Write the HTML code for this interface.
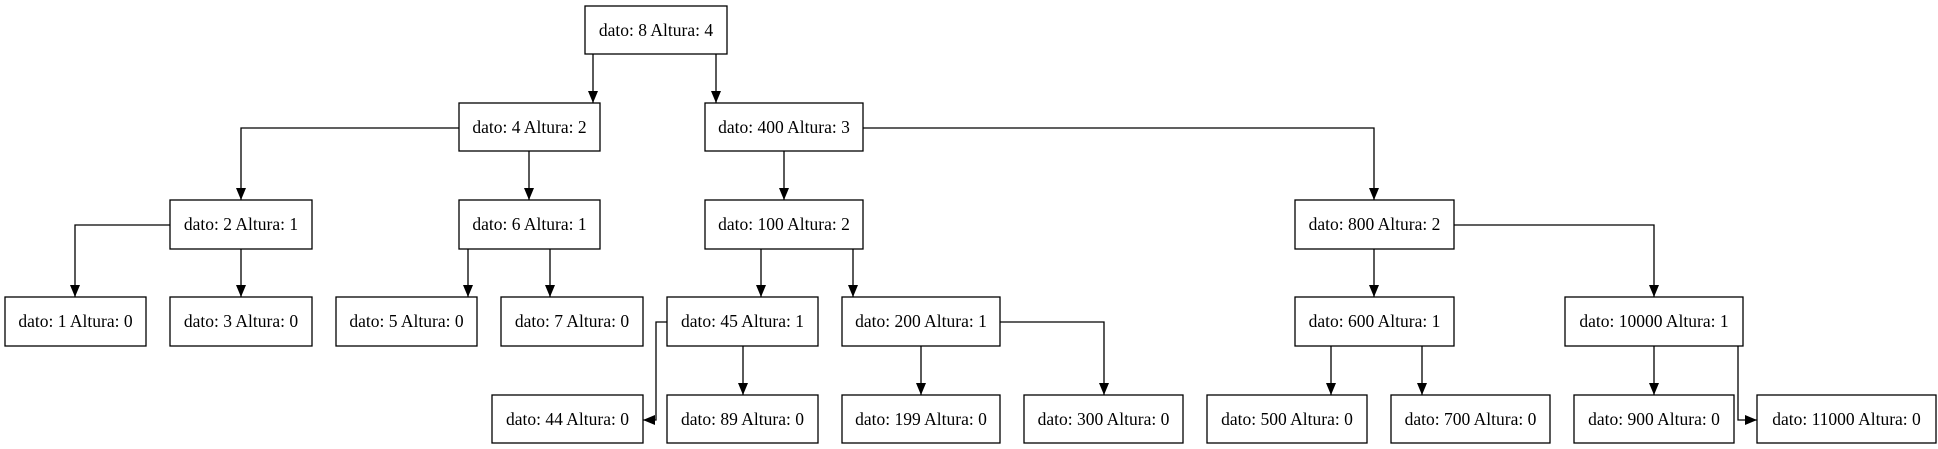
<!DOCTYPE html>
<html><head><meta charset="utf-8"><style>
html,body{margin:0;padding:0;background:#fff;}
svg{display:block;}
text{font-family:"Liberation Serif",serif;font-size:17.5px;fill:#000;}
</style></head><body>
<svg width="1938" height="449" viewBox="0 0 1938 449" xmlns="http://www.w3.org/2000/svg">
<defs><marker id="a" markerWidth="12" markerHeight="10" refX="12" refY="5" orient="auto" markerUnits="userSpaceOnUse"><path d="M0,0 L12,5 L0,10 Z" fill="#000"/></marker></defs>
<g fill="none" stroke="#000" stroke-width="1.3" marker-end="url(#a)">
<path d="M593,54 V103"/>
<path d="M716,54 V103"/>
<path d="M459,128 H241 V200"/>
<path d="M529,151 V200"/>
<path d="M784,151 V200"/>
<path d="M863,128 H1374 V200"/>
<path d="M170,225 H75 V297"/>
<path d="M241,249 V297"/>
<path d="M468,249 V297"/>
<path d="M550,249 V297"/>
<path d="M761,249 V297"/>
<path d="M853,249 V297"/>
<path d="M1374,249 V297"/>
<path d="M1454,225 H1654 V297"/>
<path d="M667,322 H656 V420 H643"/>
<path d="M743,346 V395"/>
<path d="M921,346 V395"/>
<path d="M1000,322 H1104 V395"/>
<path d="M1331,346 V395"/>
<path d="M1422,346 V395"/>
<path d="M1654,346 V395"/>
<path d="M1738,346 V420 H1757"/>
</g>
<g fill="#fff" stroke="#000" stroke-width="1.3">
<rect x="585" y="6" width="142" height="48"/>
<rect x="459" y="103" width="141" height="48"/>
<rect x="705" y="103" width="158" height="48"/>
<rect x="170" y="200" width="142" height="49"/>
<rect x="459" y="200" width="141" height="49"/>
<rect x="705" y="200" width="158" height="49"/>
<rect x="1295" y="200" width="159" height="49"/>
<rect x="5" y="297" width="141" height="49"/>
<rect x="170" y="297" width="142" height="49"/>
<rect x="336" y="297" width="141" height="49"/>
<rect x="501" y="297" width="142" height="49"/>
<rect x="667" y="297" width="151" height="49"/>
<rect x="842" y="297" width="158" height="49"/>
<rect x="1295" y="297" width="159" height="49"/>
<rect x="1565" y="297" width="178" height="49"/>
<rect x="492" y="395" width="151" height="48"/>
<rect x="667" y="395" width="151" height="48"/>
<rect x="842" y="395" width="158" height="48"/>
<rect x="1024" y="395" width="159" height="48"/>
<rect x="1207" y="395" width="160" height="48"/>
<rect x="1391" y="395" width="159" height="48"/>
<rect x="1574" y="395" width="160" height="48"/>
<rect x="1757" y="395" width="179" height="48"/>
</g>
<g text-anchor="middle">
<text x="656" y="36">dato: 8 Altura: 4</text>
<text x="529.5" y="133">dato: 4 Altura: 2</text>
<text x="784" y="133">dato: 400 Altura: 3</text>
<text x="241" y="230">dato: 2 Altura: 1</text>
<text x="529.5" y="230">dato: 6 Altura: 1</text>
<text x="784" y="230">dato: 100 Altura: 2</text>
<text x="1374.5" y="230">dato: 800 Altura: 2</text>
<text x="75.5" y="327">dato: 1 Altura: 0</text>
<text x="241" y="327">dato: 3 Altura: 0</text>
<text x="406.5" y="327">dato: 5 Altura: 0</text>
<text x="572" y="327">dato: 7 Altura: 0</text>
<text x="742.5" y="327">dato: 45 Altura: 1</text>
<text x="921" y="327">dato: 200 Altura: 1</text>
<text x="1374.5" y="327">dato: 600 Altura: 1</text>
<text x="1654" y="327">dato: 10000 Altura: 1</text>
<text x="567.5" y="425">dato: 44 Altura: 0</text>
<text x="742.5" y="425">dato: 89 Altura: 0</text>
<text x="921" y="425">dato: 199 Altura: 0</text>
<text x="1103.5" y="425">dato: 300 Altura: 0</text>
<text x="1287" y="425">dato: 500 Altura: 0</text>
<text x="1470.5" y="425">dato: 700 Altura: 0</text>
<text x="1654" y="425">dato: 900 Altura: 0</text>
<text x="1846.5" y="425">dato: 11000 Altura: 0</text>
</g>
</svg>
</body></html>
